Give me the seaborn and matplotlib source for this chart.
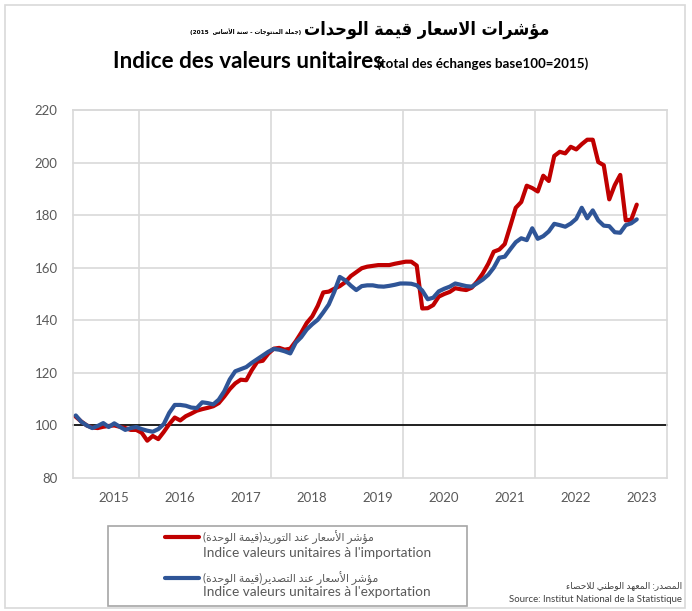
import numpy as np
import pandas as pd
import seaborn as sns
import matplotlib.pyplot as plt
from matplotlib.patches import Rectangle
from matplotlib.lines import Line2D

# Monthly unit value indices (base 100 = 2015), Jan 2015 -> Jul 2023
imports = [103.3, 101.5, 100.0, 99.2, 99.0, 99.5, 99.8, 100.0, 99.5, 99.0,
           98.3, 98.3, 97.2, 94.2, 96.0, 94.8, 97.5, 100.5, 103.0, 101.9,
           103.5, 104.5, 105.6, 106.2, 106.7, 107.3, 108.5, 111.0, 113.8, 116.0,
           117.4, 117.2, 121.0, 124.2, 124.6, 127.3, 129.2, 129.5, 128.8, 129.2,
           132.0, 135.3, 139.0, 141.5, 145.5, 150.6, 150.9, 152.0, 153.0, 154.5,
           156.8, 158.3, 159.8, 160.4, 160.7, 161.0, 161.0, 161.0, 161.5, 161.9,
           162.3, 162.3, 160.8, 144.5, 144.6, 145.8, 149.0, 150.0, 150.8, 152.2,
           151.8, 151.5, 152.4, 154.8, 157.8, 161.5, 166.1, 166.9, 169.0, 175.8,
           182.8, 185.0, 191.2, 190.3, 189.0, 195.0, 193.0, 202.5, 204.1, 203.5,
           206.0, 205.0, 207.0, 208.7, 208.7, 200.2, 199.0, 186.0, 191.4, 195.3,
           178.0, 178.3, 184.0]
exports = [103.8, 101.4, 100.0, 99.0, 99.8, 100.9, 99.4, 100.8, 99.5, 98.3,
           99.0, 99.4, 98.6, 98.0, 97.6, 98.6, 100.5, 104.8, 107.8, 107.8,
           107.5, 106.8, 106.6, 108.8, 108.5, 108.0, 109.8, 113.0, 117.5, 120.6,
           121.4, 122.2, 123.8, 125.2, 126.6, 128.0, 129.1, 128.8, 128.2, 127.4,
           131.5, 133.6, 136.5, 138.5, 140.2, 143.0, 146.0, 150.8, 156.5, 155.2,
           153.2, 151.5, 153.0, 153.3, 153.3, 152.9, 152.8, 153.1, 153.5, 154.0,
           154.0, 153.9, 153.3, 151.3, 148.0, 148.6, 151.0, 152.0, 152.8, 154.0,
           153.5, 153.0, 152.8, 154.1, 155.5, 157.3, 160.0, 163.8, 164.2, 167.0,
           169.7, 171.2, 170.5, 175.0, 171.0, 172.0, 173.8, 176.7, 176.2, 175.6,
           176.8, 178.6, 182.8, 178.8, 181.8, 178.0, 176.0, 175.8, 173.5, 173.3,
           176.2, 176.9, 178.4]
years = list(range(2015, 2024))
yticks = list(range(80, 221, 20))

RED = '#C00000'
BLUE = '#2F5597'
GRID = '#D9D9D9'
TXT = '#595959'

# --- tiny arabic shaper (matplotlib has no bidi / joining) ---
FORMS = {
    'ء': ('\uFE80',),
    'أ': ('\uFE83', '\uFE84'),
    'ؤ': ('\uFE85', '\uFE86'),
    'ا': ('\uFE8D', '\uFE8E'),
    'ة': ('\uFE93', '\uFE94'),
    'ت': ('\uFE95', '\uFE96', '\uFE97', '\uFE98'),
    'ج': ('\uFE9D', '\uFE9E', '\uFE9F', '\uFEA0'),
    'ح': ('\uFEA1', '\uFEA2', '\uFEA3', '\uFEA4'),
    'د': ('\uFEA9', '\uFEAA'),
    'ر': ('\uFEAD', '\uFEAE'),
    'س': ('\uFEB1', '\uFEB2', '\uFEB3', '\uFEB4'),
    'ش': ('\uFEB5', '\uFEB6', '\uFEB7', '\uFEB8'),
    'ص': ('\uFEB9', '\uFEBA', '\uFEBB', '\uFEBC'),
    'ط': ('\uFEC1', '\uFEC2', '\uFEC3', '\uFEC4'),
    'ع': ('\uFEC9', '\uFECA', '\uFECB', '\uFECC'),
    'ق': ('\uFED5', '\uFED6', '\uFED7', '\uFED8'),
    'ل': ('\uFEDD', '\uFEDE', '\uFEDF', '\uFEE0'),
    'م': ('\uFEE1', '\uFEE2', '\uFEE3', '\uFEE4'),
    'ن': ('\uFEE5', '\uFEE6', '\uFEE7', '\uFEE8'),
    'ه': ('\uFEE9', '\uFEEA', '\uFEEB', '\uFEEC'),
    'و': ('\uFEED', '\uFEEE'),
    'ي': ('\uFEF1', '\uFEF2', '\uFEF3', '\uFEF4'),
}
LAM_ALEF = {'ا': ('\uFEFB', '\uFEFC'), 'أ': ('\uFEF7', '\uFEF8')}
MIRROR = {'(': ')', ')': '('}


def ar(text):
    out = []
    i = 0
    while i < len(text):
        c = text[i]
        prev = text[i - 1] if i > 0 else ''
        joins_prev = len(FORMS.get(prev, ())) == 4
        if c == 'ل' and i + 1 < len(text) and text[i + 1] in LAM_ALEF:
            out.append(LAM_ALEF[text[i + 1]][1 if joins_prev else 0])
            i += 2
            continue
        if c in FORMS:
            f = FORMS[c]
            nxt = text[i + 1] if i + 1 < len(text) else ''
            joins_next = len(f) == 4 and len(FORMS.get(nxt, ())) > 1
            if len(f) == 1:
                out.append(f[0])
            elif joins_prev and joins_next:
                out.append(f[3])
            elif joins_prev:
                out.append(f[1])
            elif joins_next:
                out.append(f[2])
            else:
                out.append(f[0])
        else:
            out.append(MIRROR.get(c, c))
        i += 1
    return ''.join(reversed(out))


n = len(imports)
xpos = [2015 + (i + 0.5) / 12 for i in range(n)]
df = pd.DataFrame({
    'x': xpos * 2,
    'value': imports + exports,
    'serie': ['imp'] * n + ['exp'] * n,
})

sns.set_style('white')
plt.rcParams['font.family'] = ['Lato', 'DejaVu Sans']

W, H = 692, 611
fig = plt.figure(figsize=(W / 100, H / 100), dpi=100)
ax = fig.add_axes([73 / W, 1 - 478 / H, (667 - 73) / W, (478 - 110) / H])

sns.lineplot(data=df, x='x', y='value', hue='serie', hue_order=['imp', 'exp'],
             palette=[RED, BLUE], linewidth=3.0, estimator=None, legend=False,
             ax=ax, zorder=3)

ax.set_xlim(2015, 2024)
ax.set_ylim(80, 220)
ax.set_xlabel('')
ax.set_ylabel('')

# axis line crosses at 100, small ticks every 2 years
ax.spines['bottom'].set_position(('data', 100))
ax.spines['bottom'].set_color('black')
ax.spines['bottom'].set_linewidth(1.2)
ax.spines['bottom'].set_zorder(2)
for s in ['left', 'right', 'top']:
    ax.spines[s].set_color(GRID)
    ax.spines[s].set_linewidth(1.2)
ax.set_xticks([2015, 2017, 2019, 2021, 2023, 2024])
ax.set_xticklabels([])
ax.tick_params(axis='x', which='major', direction='out', length=3,
               width=1.2, color='black')

# grid
ax.set_yticks(yticks)
ax.set_yticklabels([str(v) for v in yticks], color=TXT, fontsize=9.5)
ax.set_xticks(list(range(2015, 2025)), minor=True)
ax.grid(False)
ax.grid(axis='y', which='major', color=GRID, lw=1.2, zorder=0)
ax.grid(axis='x', which='minor', color=GRID, lw=1.2, zorder=0)
for gl in ax.get_ygridlines():
    gl.set_clip_on(False)
ax.tick_params(axis='y', length=0, pad=11)
ax.tick_params(axis='x', which='minor', length=0)

# year labels at the bottom
sec = ax.secondary_xaxis('bottom')
sec.set_xticks([y + 0.62 for y in years])
sec.set_xticklabels([str(y) for y in years], color=TXT, fontsize=9.5)
sec.tick_params(length=0, pad=10)
sec.spines['bottom'].set_visible(False)

# titles
t1 = fig.text(550 / W, 1 - 30 / H, ar('مؤشرات الاسعار قيمة الوحدات'),
              ha='right', va='center', fontsize=13, fontweight='bold',
              family=['DejaVu Sans'], fontstretch='condensed', color='black')
t2 = fig.text(113 / W, 1 - 62 / H, 'Indice des valeurs unitaires',
              ha='left', va='center', fontsize=16.2, fontweight='bold', color='black')
fig.canvas.draw()
r = fig.canvas.get_renderer()
bb1 = t1.get_window_extent(r)
bb2 = t2.get_window_extent(r)
fig.text(bb1.x0 - 3, bb1.y0 + 3, '(2015  ' + ar('جملة المنتوجات - سنة الأساس') + ')',
         ha='right', va='bottom', fontsize=4.6, fontweight='bold',
         family=['DejaVu Sans'], fontstretch='condensed', color='black',
         transform=None)
fig.text(bb2.x1 - 6, bb2.y0 + 3, '(total des échanges base100=2015)',
         ha='left', va='bottom', fontsize=9.6, fontweight='bold', color='black',
         transform=None)

# legend box
fig.add_artist(Rectangle((108 / W, 1 - 606 / H), (467 - 108) / W, (606 - 526) / H,
                         transform=fig.transFigure, fill=False,
                         edgecolor='#A6A6A6', lw=1.2))
fig.add_artist(Line2D([165 / W, 199 / W], [1 - 537 / H] * 2, color=RED, lw=3.0,
                      transform=fig.transFigure))
fig.add_artist(Line2D([165 / W, 199 / W], [1 - 578 / H] * 2, color=BLUE, lw=3.0,
                      transform=fig.transFigure))
leg_txt = [
    (537, ar('مؤشر الأسعار عند التوريد(قيمة الوحدة)'), 7.8),
    (553, "Indice valeurs unitaires à l'importation", 9.8),
    (578, ar('مؤشر الأسعار عند التصدير(قيمة الوحدة)'), 7.8),
    (592, "Indice valeurs unitaires à l'exportation", 9.8),
]
for yy, t, fs in leg_txt:
    fig.text(203 / W, 1 - yy / H, t, ha='left', va='center', fontsize=fs,
             color=TXT)

# source
fig.text(682 / W, 1 - 586 / H, ar('المصدر: المعهد الوطني للاحصاء'),
         ha='right', va='center', fontsize=6.5, color='#404040')
fig.text(682 / W, 1 - 599 / H, 'Source: Institut National de la Statistique',
         ha='right', va='center', fontsize=6.9, color='#404040')

# chart frame
fig.add_artist(Rectangle((5 / W, 1 - 608 / H), (685 - 5) / W, (608 - 5) / H,
                         transform=fig.transFigure, fill=False,
                         edgecolor=GRID, lw=1.2))

fig.savefig('out.png', dpi=100)
